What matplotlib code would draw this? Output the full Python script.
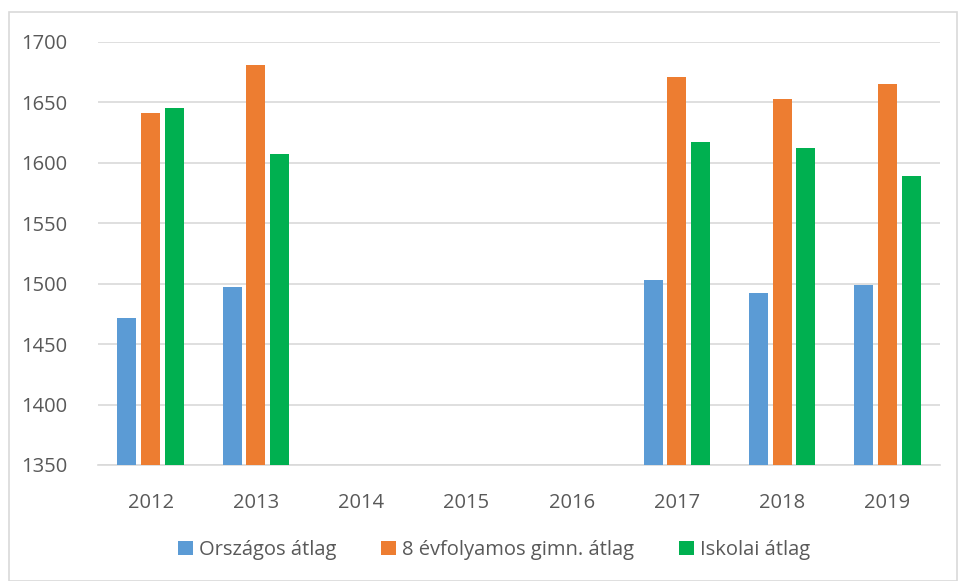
import numpy as np
import matplotlib.pyplot as plt
from matplotlib.patches import Rectangle

plt.rcParams['font.family'] = ['Open Sans', 'DejaVu Sans']

years = ['2012', '2013', '2014', '2015', '2016', '2017', '2018', '2019']
orszagos = [1472, 1497, np.nan, np.nan, np.nan, 1503, 1492, 1499]
gimn = [1641, 1681, np.nan, np.nan, np.nan, 1671, 1653, 1665]
iskolai = [1645, 1607, np.nan, np.nan, np.nan, 1617, 1612, 1589]

labels = ['Országos átlag', '8 évfolyamos gimn. átlag', 'Iskolai átlag']
colors = ['#5B9BD5', '#ED7D31', '#00B050']

fig = plt.figure(figsize=(9.58, 5.81), dpi=100)
ax = fig.add_axes([98 / 958, 1 - 465 / 581, 842 / 958, 423 / 581])

x = np.arange(len(years))
w = 0.18
for i, (vals, lab, col) in enumerate(zip([orszagos, gimn, iskolai], labels, colors)):
    v = np.array(vals, dtype=float)
    ax.bar(x + (i - 1) * 0.225, v - 1350, width=w, bottom=1350, color=col,
           label=lab, zorder=3)

ax.set_ylim(1350, 1700)
ax.set_xlim(-0.5, len(years) - 0.5)
ax.set_yticks(range(1350, 1701, 50))
ax.set_xticks(x)
ax.set_xticklabels(years)
ax.grid(axis='y', color='#D9D9D9', linewidth=1.2, zorder=0)
for s in ['top', 'right', 'left']:
    ax.spines[s].set_visible(False)
ax.spines['bottom'].set_color('#D9D9D9')
ax.spines['bottom'].set_linewidth(1.2)
ax.tick_params(axis='both', length=0, labelsize=14.5, colors='#595959')
ax.tick_params(axis='y', pad=22)
ax.tick_params(axis='x', pad=20)

leg = fig.legend(loc='center', bbox_to_anchor=(494 / 958, 1 - 550 / 581), ncol=3,
                 frameon=False, fontsize=14.5, handlelength=0.75, handleheight=0.75,
                 handletextpad=0.3, columnspacing=2.2)
for t in leg.get_texts():
    t.set_color('#595959')

fig.patches.append(Rectangle((9 / 958, 0), 948 / 958, 1 - 12 / 581,
                             transform=fig.transFigure, fill=False,
                             edgecolor='#D9D9D9', linewidth=1.2))

fig.savefig('out.png', dpi=100)
